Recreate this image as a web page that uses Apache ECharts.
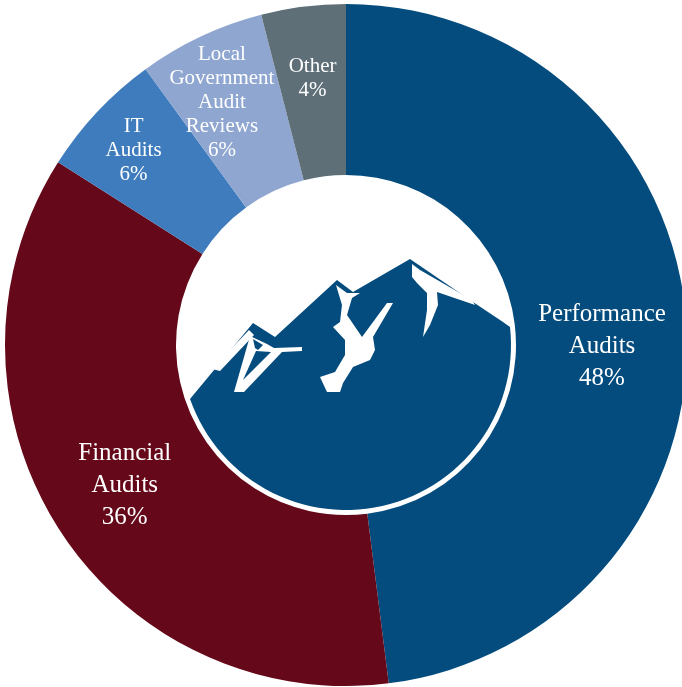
<!DOCTYPE html>
<html>
<head>
<meta charset="utf-8">
<script src="https://cdn.jsdelivr.net/npm/echarts@6/dist/echarts.min.js"></script>
<style>
  html, body { margin: 0; padding: 0; background: #fff; }
  #chart { width: 682px; height: 687px; }
</style>
</head>
<body>
<div id="chart"></div>
<script>
// audit work breakdown
const categories = ['Performance Audits', 'Financial Audits', 'IT Audits', 'Local Government Audit Reviews', 'Other']
const shares = [48, 36, 6, 6, 4]
const colors = ['#044c7e', '#650819', '#3f7cbd', '#8ea6d0', '#5e6f78']

// nudges from the default inside position, per slice
const labelShift = [[-2, 18], [-3, 2], [-24, -18], [-14, -9], [-1, -10]]

const navy = '#044c7e'

// mountain logo in the hole, coordinates relative to the centre
const ridge = [[-156, 54], [-93, -22], [-71, -8], [-9, -65], [7, -53], [64, -86], [127, -43], [157, -23], [164, -18]]
const logoR = 165
const snowPatches = [
  [[-134, 24], [-97, -15], [-92, -10], [-126, 26]],
  [[-96, -9], [-79, -1], [-72, 3], [-44, 2], [-44, 6], [-64, 7], [-102, 47], [-112, 47]],
  [[-10, -60], [1, -52], [14, -52], [6, -47], [1, -30], [16, -8], [41, -42], [47, -42], [27, -8], [29, 5],
   [24, 15], [7, 22], [-3, 38], [-6, 47], [-19, 47], [-26, 32], [-11, 27], [-1, 10], [-1, -5], [-13, -18],
   [-6, -23], [-4, -40]],
  [[66, -81], [74, -75], [126, -45], [129, -40], [91, -53], [92, -40], [84, -20], [77, -8], [81, -35],
   [81, -52], [71, -62], [66, -68]]
]
const navyCuts = [
  [[-93, -6], [-83, 0], [-88, 5], [-91, 3]],
  [[-103, 35], [-75, 7], [-90, 6]]
]

// close the ridge along the bottom of the circle
function mountainShape () {
  const pts = ridge.slice()
  const last = ridge[ridge.length - 1]
  const first = ridge[0]
  const a0 = Math.atan2(last[1], last[0])
  let a1 = Math.atan2(first[1], first[0])
  if (a1 < a0) a1 += Math.PI * 2
  const steps = 60
  for (let i = 1; i < steps; i++) {
    const a = a0 + (a1 - a0) * i / steps
    pts.push([logoR * Math.cos(a), logoR * Math.sin(a)])
  }
  return pts
}

const chart = echarts.init(document.getElementById('chart'))

const pieData = categories.map((name, i) => {
  const item = { name: name, value: shares[i], itemStyle: { color: colors[i] } }
  if (shares[i] > 20) {
    item.label = { fontSize: 25, lineHeight: 32 }
  }
  return item
})

const logoChildren = [
  { type: 'circle', shape: { cx: 0, cy: 0, r: 169 }, style: { fill: '#fff' } },
  { type: 'polygon', shape: { points: mountainShape() }, style: { fill: navy } }
]
snowPatches.forEach(pts => {
  logoChildren.push({ type: 'polygon', shape: { points: pts }, style: { fill: '#fff' } })
})
navyCuts.forEach(pts => {
  logoChildren.push({ type: 'polygon', shape: { points: pts }, style: { fill: navy } })
})

const option = {
  animation: false,
  backgroundColor: '#fff',
  graphic: [
    {
      type: 'group',
      x: 346,
      y: 345,
      silent: true,
      children: logoChildren
    }
  ],
  series: [
    {
      type: 'pie',
      center: [346, 345],
      radius: [170, 341],
      startAngle: 90,
      clockwise: true,
      silent: true,
      itemStyle: { borderWidth: 0 },
      label: {
        show: true,
        position: 'inside',
        color: '#fff',
        fontFamily: 'Liberation Serif',
        fontSize: 21,
        lineHeight: 24,
        align: 'center',
        formatter: function (p) {
          return p.name.split(' ').join('\n') + '\n' + p.value + '%'
        }
      },
      labelLine: { show: false },
      labelLayout: function (params) {
        const s = labelShift[params.dataIndex]
        return { dx: s[0], dy: s[1] }
      },
      data: pieData
    }
  ]
}

chart.setOption(option)
</script>
</body>
</html>
